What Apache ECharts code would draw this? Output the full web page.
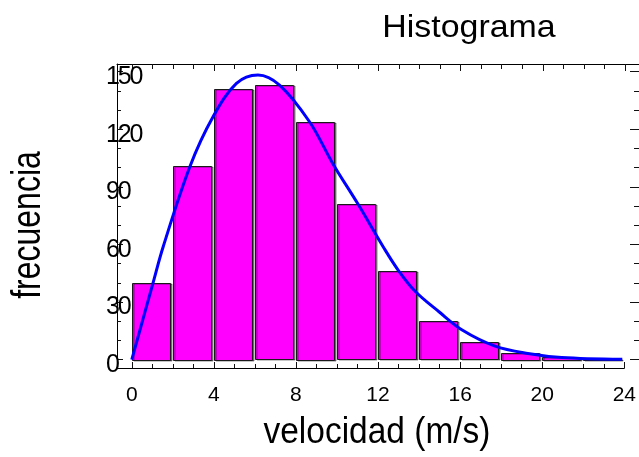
<!DOCTYPE html>
<html><head><meta charset="utf-8">
<script src="https://cdn.jsdelivr.net/npm/echarts@6/dist/echarts.min.js"></script>
<style>html,body{margin:0;padding:0;background:#fff}#c{width:639px;height:457px}</style>
</head><body><div id="c"></div>
<script>
// ---- data ----
const binStarts = [0, 2, 4, 6, 8, 10, 12, 14, 16, 18, 20, 22];
const binWidth = 2;
const frequencies = [40, 101, 141, 143, 124, 81, 46, 20, 9, 3.5, 1.4, 0.4];
const curveX = [0, 1.03, 1.53, 2.83, 3.96, 5.1, 6.15, 7.2, 8.66, 9.79, 11.0, 12.3, 13.02, 13.83, 14.97, 16.1, 17.7, 19.3, 20.95, 23.9];
const curveY = [0, 39.7, 58.8, 100.5, 126.5, 143.9, 148.3, 143, 123.9, 102.2, 81.4, 57.9, 46, 35.3, 24.9, 15.4, 7.0, 3.2, 1.1, 0.1];
const xMajorTicks = [0, 4, 8, 12, 16, 20, 24];
const xMinorTicks = [0,1,2,3,4,5,6,7,8,9,10,11,12,13,14,15,16,17,18,19,20,21,22,23,24];
const yMajorTicks = [0, 30, 60, 90, 120, 150];
const yMinorTicks = [0,10,20,30,40,50,60,70,80,90,100,110,120,130,140,150];
const titleText = 'Histograma';
const xTitle = 'velocidad (m/s)';
const yTitle = 'frecuencia';

// ---- chart ----
const FONT = 'Liberation Sans, Arial, sans-serif';
const chart = echarts.init(document.getElementById('c'), null, {renderer: 'canvas'});
const XMIN = -0.72, YMIN = -4.4, YMAX = 154;
const tickStyle = {color: '#111', width: 1};

function axis(gridIndex, position, min, max, lineShow, tickLen, ticks, label) {
  return {
    gridIndex, type: 'value', position, min, max,
    axisLine: {show: lineShow, onZero: false, lineStyle: {color: '#000', width: 1}},
    axisTick: {show: true, inside: true, length: tickLen, customValues: ticks, lineStyle: tickStyle},
    axisLabel: label || {show: false},
    splitLine: {show: false}
  };
}

const option = {
  animation: false,
  backgroundColor: '#fff',
  grid: [
    {left: 117, right: 14, top: 64, bottom: 89},
    {left: 117, right: 0, top: 64, bottom: 89}
  ],
  xAxis: [
    axis(0, 'bottom', XMIN, 24, true, 6, xMajorTicks,
      {show: true, customValues: xMajorTicks, fontSize: 21, color: '#000', margin: 17, fontFamily: FONT}),
    axis(0, 'bottom', XMIN, 24, false, 4, xMinorTicks),
    axis(1, 'top', XMIN, 24.68, true, 7, xMajorTicks),
    axis(1, 'top', XMIN, 24.68, false, 5, xMinorTicks)
  ],
  yAxis: [
    axis(0, 'left', YMIN, YMAX, true, 6, yMajorTicks,
      {show: true, customValues: yMajorTicks, align: 'left', margin: 11,
        padding: [11, 0, 0, 0], color: '#000',
        formatter: v => String(v).split('').map(c => '{d|' + c + '}').join(''),
        rich: {d: {fontSize: 25, width: 11.7, fontFamily: FONT, color: '#000'}}}),
    axis(0, 'left', YMIN, YMAX, false, 4, yMinorTicks),
    axis(1, 'right', YMIN, YMAX, false, 9, yMajorTicks),
    axis(1, 'right', YMIN, YMAX, false, 5, yMinorTicks)
  ],
  series: [
    {
      type: 'custom', xAxisIndex: 0, yAxisIndex: 0, z: 2,
      data: binStarts.map((s, i) => [s, frequencies[i], binWidth]),
      renderItem: function (params, api) {
        const x0 = api.value(0), h = api.value(1), w = api.value(2);
        const pTop = api.coord([x0, h]);
        const pBot = api.coord([x0 + w, 0]);
        const width = (pBot[0] - pTop[0]) - 2.8;
        return {
          type: 'rect',
          shape: {x: Math.round(pTop[0]) + 0.5, y: Math.round(pTop[1]) + 0.5, width: Math.round(width), height: Math.round(pBot[1] - pTop[1])},
          style: {fill: '#ff00ff', stroke: '#1a1a1a', lineWidth: 1,
            shadowColor: 'rgba(0,0,0,0.45)', shadowOffsetX: 1.5, shadowOffsetY: 0.5, shadowBlur: 0}
        };
      }
    },
    {
      type: 'line', xAxisIndex: 0, yAxisIndex: 0, z: 3,
      data: curveX.map((x, i) => [x, curveY[i]]),
      smooth: 0.35, showSymbol: false, symbol: 'none',
      lineStyle: {color: '#0000ff', width: 3}
    }
  ],
  graphic: [
    {type: 'text', x: 469, y: 28, scaleX: 1.06, style: {text: titleText, font: '32px ' + FONT, fill: '#000', textAlign: 'center', textVerticalAlign: 'middle'}},
    {type: 'text', x: 377, y: 433, scaleX: 0.93, style: {text: xTitle, font: '36px ' + FONT, fill: '#000', textAlign: 'center', textVerticalAlign: 'middle'}},
    {type: 'text', x: 29, y: 225, rotation: Math.PI / 2, scaleX: 0.78, style: {text: yTitle, font: '41px ' + FONT, fill: '#000', textAlign: 'center', textVerticalAlign: 'middle'}}
  ]
};
chart.setOption(option);
</script>
</body></html>
